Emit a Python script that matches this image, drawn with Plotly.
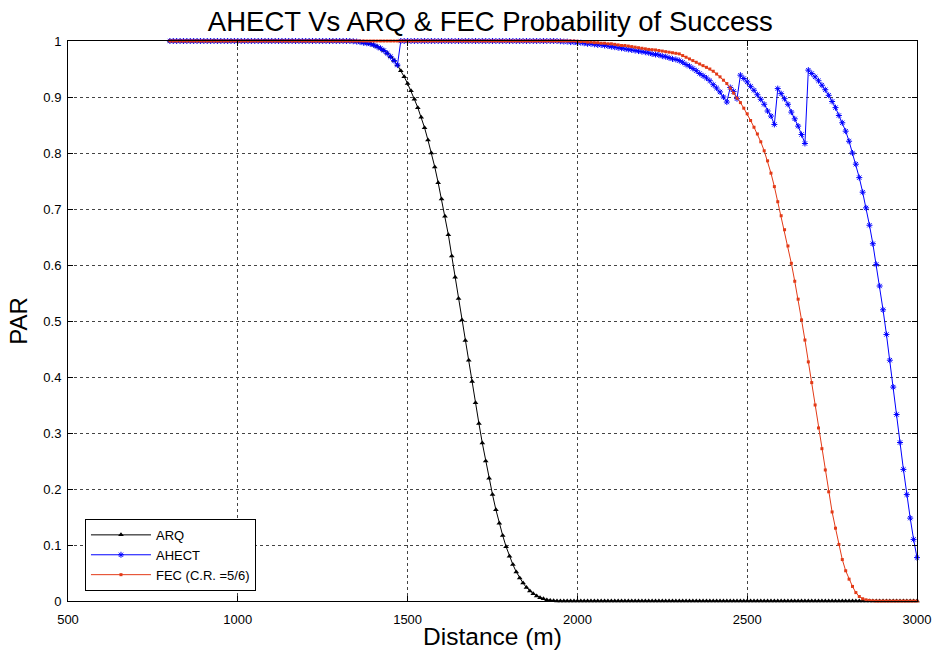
import plotly.graph_objects as go

# Distance grid (m)
distance = list(range(800, 3010, 10))

# ARQ probability of success
arq = [
    # 800 - 1330
    1.0, 1.0, 1.0, 1.0, 1.0, 1.0, 1.0, 1.0, 1.0, 1.0,
    1.0, 1.0, 1.0, 1.0, 1.0, 1.0, 1.0, 1.0, 1.0, 1.0,
    1.0, 1.0, 1.0, 1.0, 1.0, 1.0, 1.0, 1.0, 1.0, 1.0,
    1.0, 1.0, 1.0, 1.0, 1.0, 1.0, 1.0, 1.0, 1.0, 1.0,
    1.0, 1.0, 1.0, 1.0, 1.0, 1.0, 1.0, 1.0, 1.0, 1.0,
    1.0, 1.0, 1.0, 1.0,
    # 1340 - 1930
    0.9995, 0.999, 0.998, 0.997, 0.996, 0.995, 0.993, 0.990, 0.987, 0.983,
    0.978, 0.972, 0.965, 0.957, 0.947, 0.936, 0.924, 0.911, 0.896, 0.881,
    0.864, 0.845, 0.823, 0.800, 0.775, 0.747, 0.718, 0.687, 0.654, 0.616,
    0.578, 0.540, 0.502, 0.465, 0.430, 0.392, 0.354, 0.317, 0.282, 0.250,
    0.219, 0.190, 0.163, 0.139, 0.117, 0.097, 0.080, 0.065, 0.052, 0.041,
    0.032, 0.024, 0.018, 0.013, 0.009, 0.006, 0.004, 0.002, 0.001, 0.0005,
    # 1940 - 3000
    0, 0, 0, 0, 0, 0, 0, 0, 0, 0,
    0, 0, 0, 0, 0, 0, 0, 0, 0, 0,
    0, 0, 0, 0, 0, 0, 0, 0, 0, 0,
    0, 0, 0, 0, 0, 0, 0, 0, 0, 0,
    0, 0, 0, 0, 0, 0, 0, 0, 0, 0,
    0, 0, 0, 0, 0, 0, 0, 0, 0, 0,
    0, 0, 0, 0, 0, 0, 0, 0, 0, 0,
    0, 0, 0, 0, 0, 0, 0, 0, 0, 0,
    0, 0, 0, 0, 0, 0, 0, 0, 0, 0,
    0, 0, 0, 0, 0, 0, 0, 0, 0, 0,
    0, 0, 0, 0, 0, 0, 0,
]

# AHECT probability of success
ahect = [
    # 800 - 1330
    1.0, 1.0, 1.0, 1.0, 1.0, 1.0, 1.0, 1.0, 1.0, 1.0,
    1.0, 1.0, 1.0, 1.0, 1.0, 1.0, 1.0, 1.0, 1.0, 1.0,
    1.0, 1.0, 1.0, 1.0, 1.0, 1.0, 1.0, 1.0, 1.0, 1.0,
    1.0, 1.0, 1.0, 1.0, 1.0, 1.0, 1.0, 1.0, 1.0, 1.0,
    1.0, 1.0, 1.0, 1.0, 1.0, 1.0, 1.0, 1.0, 1.0, 1.0,
    1.0, 1.0, 1.0, 1.0,
    # 1340 - 1470
    0.9995, 0.999, 0.998, 0.997, 0.996, 0.995, 0.993, 0.990, 0.987, 0.983,
    0.978, 0.972, 0.965, 0.957,
    # 1480 - 1940
    1.0, 1.0, 1.0, 1.0, 1.0, 1.0, 1.0, 1.0, 1.0, 1.0,
    1.0, 1.0, 1.0, 1.0, 1.0, 1.0, 1.0, 1.0, 1.0, 1.0,
    1.0, 1.0, 1.0, 1.0, 1.0, 1.0, 1.0, 1.0, 1.0, 1.0,
    1.0, 1.0, 1.0, 1.0, 1.0, 1.0, 1.0, 1.0, 1.0, 1.0,
    1.0, 1.0, 1.0, 1.0, 1.0, 1.0, 1.0,
    # 1950 - 2300
    0.9995, 0.999, 0.999, 0.998, 0.998, 0.997, 0.997, 0.996, 0.995, 0.995,
    0.994, 0.993, 0.993, 0.992, 0.991, 0.990, 0.989, 0.988, 0.987, 0.986,
    0.985, 0.984, 0.983, 0.982, 0.981, 0.980, 0.979, 0.977, 0.976, 0.975,
    0.973, 0.972, 0.970, 0.968, 0.967, 0.965,
    # 2310 - 3000
    0.962, 0.958, 0.955, 0.951, 0.947, 0.942, 0.938, 0.934, 0.929, 0.922,
    0.916, 0.909, 0.900, 0.891, 0.917, 0.910, 0.897, 0.939, 0.933, 0.927,
    0.919, 0.912, 0.904, 0.896, 0.887, 0.875, 0.866, 0.851, 0.915, 0.906,
    0.897, 0.887, 0.873, 0.861, 0.848, 0.833, 0.817, 0.948, 0.942, 0.936,
    0.929, 0.921, 0.913, 0.903, 0.892, 0.881, 0.867, 0.854, 0.839, 0.821,
    0.800, 0.780, 0.756, 0.730, 0.702, 0.671, 0.638, 0.601, 0.5625, 0.520,
    0.476, 0.430, 0.382, 0.333, 0.283, 0.235, 0.190, 0.148, 0.110, 0.0775,
]

# FEC (C.R. = 5/6) probability of success
fec = [
    # 800 - 1990
    1.0, 1.0, 1.0, 1.0, 1.0, 1.0, 1.0, 1.0, 1.0, 1.0,
    1.0, 1.0, 1.0, 1.0, 1.0, 1.0, 1.0, 1.0, 1.0, 1.0,
    1.0, 1.0, 1.0, 1.0, 1.0, 1.0, 1.0, 1.0, 1.0, 1.0,
    1.0, 1.0, 1.0, 1.0, 1.0, 1.0, 1.0, 1.0, 1.0, 1.0,
    1.0, 1.0, 1.0, 1.0, 1.0, 1.0, 1.0, 1.0, 1.0, 1.0,
    1.0, 1.0, 1.0, 1.0, 1.0, 1.0, 1.0, 1.0, 1.0, 1.0,
    1.0, 1.0, 1.0, 1.0, 1.0, 1.0, 1.0, 1.0, 1.0, 1.0,
    1.0, 1.0, 1.0, 1.0, 1.0, 1.0, 1.0, 1.0, 1.0, 1.0,
    1.0, 1.0, 1.0, 1.0, 1.0, 1.0, 1.0, 1.0, 1.0, 1.0,
    1.0, 1.0, 1.0, 1.0, 1.0, 1.0, 1.0, 1.0, 1.0, 1.0,
    1.0, 1.0, 1.0, 1.0, 1.0, 1.0, 1.0, 1.0, 1.0, 1.0,
    1.0, 1.0, 1.0, 1.0, 1.0, 1.0, 1.0, 1.0, 1.0, 1.0,
    # 2000 - 2300
    0.9995, 0.999, 0.999, 0.998, 0.998, 0.997, 0.997, 0.996, 0.996, 0.995,
    0.995, 0.994, 0.993, 0.992, 0.992, 0.991, 0.990, 0.989, 0.988, 0.987,
    0.986, 0.985, 0.9845, 0.984, 0.983, 0.982, 0.981, 0.980, 0.979, 0.978,
    0.977,
    # 2310 - 2870
    0.974, 0.971, 0.968, 0.965, 0.962, 0.959, 0.956, 0.953, 0.950, 0.946,
    0.941, 0.936, 0.930, 0.924, 0.916, 0.907, 0.898, 0.890, 0.880, 0.870,
    0.858, 0.846, 0.834, 0.820, 0.804, 0.786, 0.764, 0.740, 0.713, 0.688,
    0.663, 0.634, 0.603, 0.571, 0.539, 0.502, 0.466, 0.427, 0.390, 0.350,
    0.309, 0.272, 0.234, 0.195, 0.159, 0.130, 0.101, 0.074, 0.054, 0.039,
    0.026, 0.015, 0.008, 0.004, 0.002, 0.001, 0.0005,
    # 2880 - 3000
    0, 0, 0, 0, 0, 0, 0, 0, 0, 0,
    0, 0, 0,
]

x_ticks = [500, 1000, 1500, 2000, 2500, 3000]
y_ticks = [0, 0.1, 0.2, 0.3, 0.4, 0.5, 0.6, 0.7, 0.8, 0.9, 1]
y_tick_labels = ["0", "0.1", "0.2", "0.3", "0.4", "0.5", "0.6", "0.7", "0.8", "0.9", "1"]

FONT = "Liberation Sans, Arial, sans-serif"
RED = "#e33a17"

fig = go.Figure()
fig.add_trace(go.Scatter(
    x=distance, y=arq, name="ARQ", mode="lines+markers",
    line=dict(color="black", width=1),
    marker=dict(symbol="triangle-up", size=5, color="black"),
    cliponaxis=False,
))
fig.add_trace(go.Scatter(
    x=distance, y=ahect, name="AHECT", mode="lines+markers",
    line=dict(color="#0000ff", width=1),
    marker=dict(symbol="asterisk-open", size=5, color="#0000ff",
                line=dict(color="#0000ff", width=1)),
    cliponaxis=False,
))
fig.add_trace(go.Scatter(
    x=distance, y=fec, name="FEC (C.R. =5/6)", mode="lines+markers",
    line=dict(color=RED, width=1),
    marker=dict(symbol="square", size=3, color=RED),
    cliponaxis=False,
))

axis_common = dict(
    showline=True, linecolor="black", linewidth=1, mirror="ticks",
    ticks="inside", ticklen=5, tickcolor="black",
    showgrid=True, gridcolor="#444444", griddash="dot", gridwidth=1,
    zeroline=False, automargin=False,
    tickfont=dict(family=FONT, size=13, color="black"),
)

fig.update_xaxes(
    range=[500, 3000], tickvals=x_ticks, ticklabelstandoff=6,
    title=dict(text="Distance (m)", font=dict(family=FONT, size=24.5, color="black"), standoff=2),
    **axis_common,
)
fig.update_yaxes(
    range=[0, 1], tickvals=y_ticks, ticktext=y_tick_labels, ticklabelstandoff=3,
    title=dict(text="PAR", font=dict(family=FONT, size=24, color="black"), standoff=8),
    **axis_common,
)

fig.update_layout(
    width=934, height=653,
    margin=dict(l=68, r=17, t=41, b=52),
    paper_bgcolor="white", plot_bgcolor="white",
    title=dict(text="AHECT Vs ARQ & FEC Probability of Success",
               x=0.525, xanchor="center", y=0.968, yanchor="middle",
               font=dict(family=FONT, size=27.5, color="black")),
    showlegend=True,
    legend=dict(x=0.02, y=0.018, xanchor="left", yanchor="bottom",
                bgcolor="white", bordercolor="black", borderwidth=1,
                font=dict(family=FONT, size=13, color="black"),
                tracegroupgap=0, itemwidth=60),
)

fig.write_html("out.html")
